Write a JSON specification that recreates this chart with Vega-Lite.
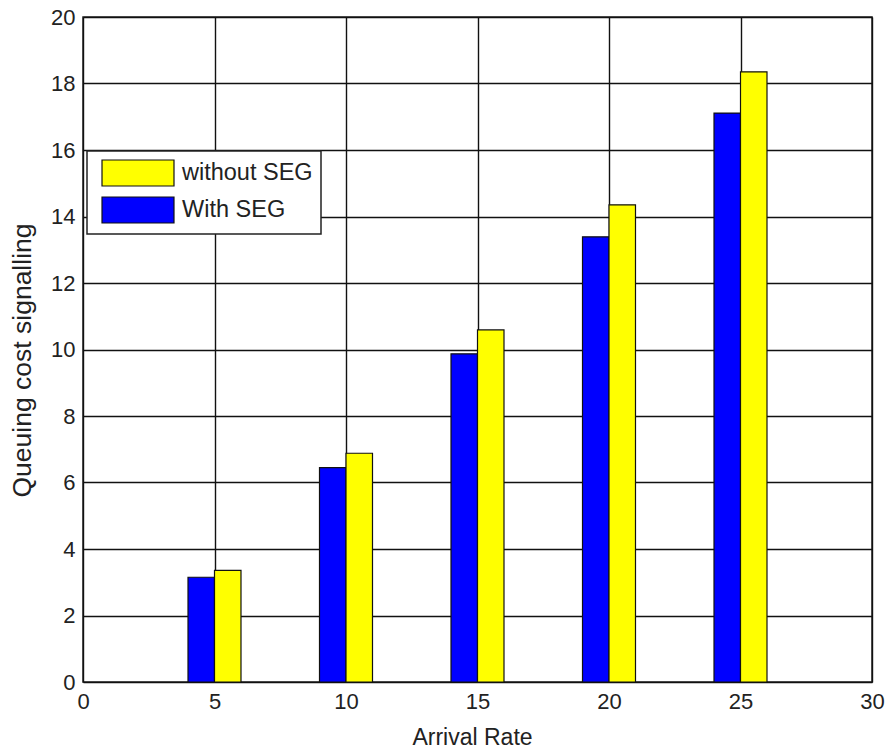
{
  "$schema": "https://vega.github.io/schema/vega-lite/v6.json",
  "width": 789,
  "height": 665,
  "autosize": "none",
  "padding": {"left": 83, "top": 17, "right": 15, "bottom": 70},
  "background": "white",
  "config": {
    "font": "Liberation Sans",
    "view": {"stroke": "#222", "strokeWidth": 1.5},
    "axis": {
      "grid": true,
      "gridColor": "#111",
      "gridWidth": 1.4,
      "gridOpacity": 1,
      "domain": false,
      "ticks": false,
      "labelFont": "Liberation Sans",
      "labelFontSize": 22,
      "labelColor": "#222",
      "titleFont": "Liberation Sans",
      "titleFontSize": 23,
      "titleFontWeight": "normal",
      "titleColor": "#222"
    }
  },
  "data": {
    "values": [
      {"rate": 5, "series": "With SEG", "cost": 3.15},
      {"rate": 5, "series": "without SEG", "cost": 3.36},
      {"rate": 10, "series": "With SEG", "cost": 6.45},
      {"rate": 10, "series": "without SEG", "cost": 6.88},
      {"rate": 15, "series": "With SEG", "cost": 9.87},
      {"rate": 15, "series": "without SEG", "cost": 10.59},
      {"rate": 20, "series": "With SEG", "cost": 13.39},
      {"rate": 20, "series": "without SEG", "cost": 14.35},
      {"rate": 25, "series": "With SEG", "cost": 17.11},
      {"rate": 25, "series": "without SEG", "cost": 18.35}
    ]
  },
  "encoding": {
    "x": {
      "field": "rate",
      "type": "quantitative",
      "scale": {"domain": [0, 30], "nice": false, "zero": false, "padding": 0},
      "axis": {"values": [0, 5, 10, 15, 20, 25, 30], "title": "Arrival Rate", "labelPadding": 9, "titlePadding": 14, "titleX": 389, "labelFlush": false}
    },
    "y": {
      "field": "cost",
      "type": "quantitative",
      "scale": {"domain": [0, 20], "nice": false},
      "axis": {"values": [0, 2, 4, 6, 8, 10, 12, 14, 16, 18, 20], "title": "Queuing cost signalling", "titleFontSize": 26.5, "labelPadding": 8, "titlePadding": 14, "titleY": 343, "labelFlush": false}
    },
    "color": {
      "field": "series",
      "type": "nominal",
      "scale": {"domain": ["without SEG", "With SEG"], "range": ["#FFFF00", "#0000FF"]},
      "legend": {
        "title": null,
        "orient": "none",
        "legendX": 4,
        "legendY": 134,
        "padding": 8,
        "symbolOffset": 29,
        "symbolType": "M-2.769,-1H2.769V1H-2.769Z",
        "symbolSize": 676,
        "symbolStrokeColor": "#111",
        "symbolStrokeWidth": 1.2,
        "symbolOpacity": 1,
        "labelFontSize": 23.5,
        "labelFont": "Liberation Sans",
        "labelColor": "#222",
        "labelOffset": 30,
        "rowPadding": 5,
        "fillColor": "white",
        "strokeColor": "#222",
        "encode": {"legend": {"update": {"strokeWidth": {"value": 1.5}}}}
      }
    }
  },
  "layer": [
    {
      "transform": [{"filter": "datum.series == 'With SEG'"}],
      "mark": {"type": "bar", "size": 26.5, "xOffset": -13.25, "stroke": "#111", "strokeWidth": 1.2, "opacity": 1}
    },
    {
      "transform": [{"filter": "datum.series == 'without SEG'"}],
      "mark": {"type": "bar", "size": 26.5, "xOffset": 13.25, "stroke": "#111", "strokeWidth": 1.2, "opacity": 1}
    }
  ]
}
